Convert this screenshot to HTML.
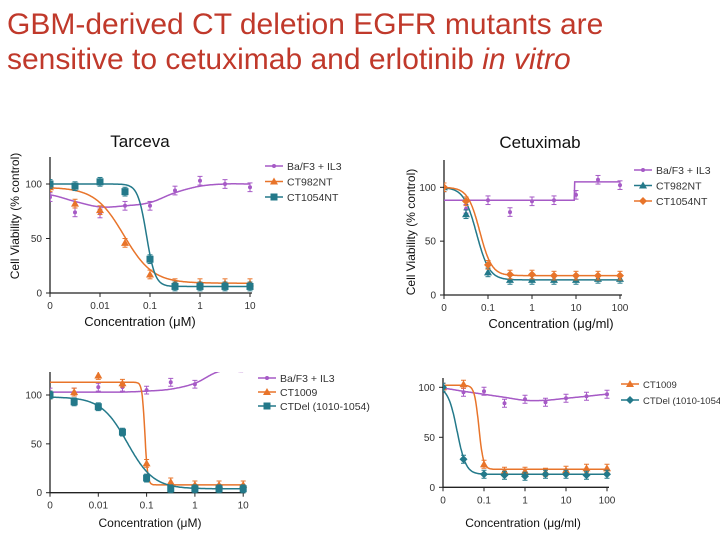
<!DOCTYPE html>
<html><head><meta charset="utf-8"><style>
body{margin:0;background:#fff;width:720px;height:540px;overflow:hidden;font-family:"Liberation Sans",sans-serif}
#title{position:absolute;left:7px;top:7px;font-size:30px;line-height:35px;color:#c0392b;margin:0;font-weight:normal}
svg{position:absolute;left:0;top:0}
</style></head><body>
<h1 id="title">GBM-derived CT deletion EGFR mutants are<br>sensitive to cetuximab and erlotinib <i>in vitro</i></h1>
<svg id="s" width="720" height="540"></svg>
<script>
// shared concentration positions (log10) for each chart
const concA = [-3,-2.5,-2,-1.5,-1,-0.5,0,0.5,1];
const concB = [-2,-1.5,-1,-0.5,0,0.5,1,1.5,2];
// Chart 1 Tarceva
const c1Names = ["Ba/F3 + IL3","CT982NT","CT1054NT"];
const c1Ba = [88,74,73,80,80,94,103,100,97];
const c1BaFit = [90,84,79,80,83,92,98,100,100];
const c1CT982 = [97,82,76,46,17,9,9,9,9];
const c1CT1054 = [100,98,102,93,31,6,6,6,6];
// Chart 2 Cetuximab
const c2Names = ["Ba/F3 + IL3","CT982NT","CT1054NT"];
const c2Ba = [100,80,88,77,87,88,93,107,102];
const c2CT982 = [100,75,21,14,14,14,14,15,15];
const c2CT1054 = [100,87,28,19,19,18,18,18,18];
// Chart 3
const c3Names = ["Ba/F3 + IL3","CT1009","CTDel (1010-1054)"];
const c3Ba = [103,103,108,108,105,113,111];
const c3BaFit = [103,103,103,103,104,106,112,124,124];
const c3CT1009 = [100,103,120,112,30,11,8,8,8];
const c3CTDel = [100,93,88,62,15,4,4,4,4];
// Chart 4
const c4Names = ["CT1009","CTDel (1010-1054)"];
const c4Ba = [100,95,96,84,88,85,89,91,93];
const c4BaFit = [99,96,93,90,87,87,89,91,93];
const c4CT1009 = [100,103,23,16,16,15,17,19,19];
const c4CTDel = [100,28,13,12,11,13,13,12,13];

const P="#a65ac6",O="#e8742a",T="#23798a";
const NS="http://www.w3.org/2000/svg";
const svg=document.getElementById('s');
function el(t,a,p){const e=document.createElementNS(NS,t);for(const k in a)e.setAttribute(k,a[k]);(p||svg).appendChild(e);return e;}
function hill(top,bot,ec,h){return l=>bot+(top-bot)/(1+Math.pow(Math.pow(10,l)/ec,h));}
function spline(vals,logs){return l=>{let i=0;while(i<logs.length-2&&l>logs[i+1])i++;const t=(l-logs[i])/(logs[i+1]-logs[i]);
 const p0=vals[Math.max(i-1,0)],p1=vals[i],p2=vals[i+1],p3=vals[Math.min(i+2,vals.length-1)];
 return 0.5*((2*p1)+(-p0+p2)*t+(2*p0-5*p1+4*p2-p3)*t*t+(-p0+3*p1-3*p2+p3)*t*t*t);};}
function marker(g,shape,x,y,c){
 if(shape==='c')el('circle',{cx:x,cy:y,r:2,fill:c},g);
 else if(shape==='s')el('rect',{x:x-3.5,y:y-3.5,width:7,height:7,fill:c},g);
 else if(shape==='t')el('polygon',{points:`${x},${y-4} ${x-4},${y+3} ${x+4},${y+3}`,fill:c},g);
 else el('polygon',{points:`${x},${y-4} ${x+4},${y} ${x},${y+4} ${x-4},${y}`,fill:c},g);}
function chart(cfg){
 const g=el('g',{});
 
 
 const xs=l=>cfg.x0+(l-cfg.lmin)*cfg.dec, ys=v=>cfg.y0-v*cfg.ys;
 const clipId=cfg.name+'-clip';
 const cp=el('clipPath',{id:clipId},g);el('rect',{x:cfg.x0,y:cfg.top,width:400,height:cfg.y0-cfg.top+2},cp);
 const ax=el('path',{d:`M${cfg.x0},${cfg.top}V${cfg.y0}H${xs(cfg.lmin+cfg.ticks.length-1)+2}`,stroke:'#222','stroke-width':1.3,fill:'none'},g);
 
 
 [0,50,100].forEach(v=>{el('line',{x1:cfg.x0-4,x2:cfg.x0,y1:ys(v),y2:ys(v),stroke:'#222'},g);
  const t=el('text',{x:cfg.x0-8,y:ys(v)+3.5,'font-size':10,'text-anchor':'end',fill:'#333'},g);t.textContent=v;
  
  });
 cfg.ticks.forEach((s,i)=>{const x=xs(cfg.lmin+i);el('line',{x1:x,x2:x,y1:cfg.y0,y2:cfg.y0+4,stroke:'#222'},g);
  const t=el('text',{x:x,y:cfg.y0+16,'font-size':10,'text-anchor':'middle',fill:'#333'},g);t.textContent=s;
  
  });
 cfg.series.forEach(s=>{
  const sg=el('g',{'clip-path':`url(#${clipId})`},g);
  
  
  let d='';for(let l=cfg.conc[0];l<=cfg.conc[cfg.conc.length-1]+1e-9;l+=0.01){d+=(d?'L':'M')+xs(l).toFixed(1)+','+ys(s.fit(l)).toFixed(1);}
  el('path',{d:d,stroke:s.c,'stroke-width':1.5,fill:'none'},sg);
  s.vals.forEach((v,i)=>{const x=xs(cfg.conc[i]),y=ys(v);
   el('line',{x1:x,x2:x,y1:ys(v+4),y2:ys(v-4),stroke:s.c,'stroke-width':1},sg);
   el('line',{x1:x-2.5,x2:x+2.5,y1:ys(v+4),y2:ys(v+4),stroke:s.c},sg);
   el('line',{x1:x-2.5,x2:x+2.5,y1:ys(v-4),y2:ys(v-4),stroke:s.c},sg);
   marker(sg,s.m,x,y,s.c);});
 });
 cfg.legend.forEach((s,i)=>{const y=cfg.ly+i*cfg.lstep;
  const lg=el('g',{},g);
  
  
  el('line',{x1:cfg.lx,x2:cfg.lx+18,y1:y,y2:y,stroke:s.c,'stroke-width':1.5},lg);
  marker(lg,s.m,cfg.lx+9,y,s.c);
  const t=el('text',{x:cfg.lx+22,y:y+4,'font-size':cfg.lf||10.5,fill:'#333'},lg);t.textContent=s.n;});
 if(cfg.title){const t=el('text',{x:cfg.tx,y:cfg.ty,'font-size':17,'text-anchor':'middle',fill:'#111'},g);t.textContent=cfg.title;
  
  }
 const xt=el('text',{x:cfg.xtx,y:cfg.xty,'font-size':cfg.xtf,'text-anchor':'middle',fill:'#111'},g);xt.textContent=cfg.xtitle;
 
 
 if(cfg.ytx){const yt=el('text',{x:0,y:0,'font-size':12,'text-anchor':'middle',fill:'#111',transform:`translate(${cfg.ytx},${cfg.yty}) rotate(-90)`},g);yt.textContent='Cell Viability (% control)';
  
  }
}
const tA=['0','0.01','0.1','1','10'], tB=['0','0.1','1','10','100'];
chart({name:'tarceva-chart',x0:50,y0:293,ys:1.09,top:157,lmin:-3,dec:50,conc:concA,ticks:tA,
 series:[{key:'ba',vals:c1Ba,fit:spline(c1BaFit,concA),c:P,m:'c'},{key:'ct982',vals:c1CT982,fit:hill(97,9,0.03,1.5),c:O,m:'t'},{key:'ct1054',vals:c1CT1054,fit:hill(100,6,0.085,5),c:T,m:'s'}],
 legend:[{n:c1Names[0],c:P,m:'c'},{n:c1Names[1],c:O,m:'t'},{n:c1Names[2],c:T,m:'s'}],lx:265,ly:166,lstep:15.5,
 title:'Tarceva',tx:140,ty:147,xtitle:'Concentration (μM)',xtx:140,xty:326,xtf:13,ytx:19,yty:216});
chart({name:'cetuximab-chart',x0:444,y0:295,ys:1.077,top:160,lmin:-2,dec:44,conc:concB,ticks:tB,
 series:[{key:'ba',vals:c2Ba,fit:l=>l<0.97?88:105,c:P,m:'c'},{key:'ct982',vals:c2CT982,fit:hill(100,14,0.055,3),c:T,m:'t'},{key:'ct1054',vals:c2CT1054,fit:hill(100,18,0.065,3.2),c:O,m:'d'}],
 legend:[{n:c2Names[0],c:P,m:'c'},{n:c2Names[1],c:T,m:'t'},{n:c2Names[2],c:O,m:'d'}],lx:634,ly:170,lstep:15.5,
 title:'Cetuximab',tx:540,ty:148,xtitle:'Concentration (μg/ml)',xtx:551,xty:328,xtf:13,ytx:415,yty:232});
chart({name:'bottom-left-chart',x0:50,y0:492.7,ys:0.977,top:372,lmin:-3,dec:48.3,conc:concA,ticks:tA,
 series:[{key:'ba',vals:c3Ba,fit:spline(c3BaFit,concA),c:P,m:'c'},{key:'ct1009',vals:c3CT1009,fit:hill(113,8,0.092,15),c:O,m:'t'},{key:'ctdel',vals:c3CTDel,fit:hill(98,4,0.04,1.6),c:T,m:'s'}],
 legend:[{n:c3Names[0],c:P,m:'c'},{n:c3Names[1],c:O,m:'t'},{n:c3Names[2],c:T,m:'s'}],lx:258,ly:378,lstep:14,
 xtitle:'Concentration (μM)',xtx:150,xty:527,xtf:12});
chart({name:'bottom-right-chart',x0:443,y0:487.3,ys:1.0,top:378,lmin:-2,dec:41,conc:concB,ticks:tB,
 series:[{key:'ba',vals:c4Ba,fit:spline(c4BaFit,concB),c:P,m:'c'},{key:'ct1009',vals:c4CT1009,fit:hill(102,18,0.075,8),c:O,m:'t'},{key:'ctdel',vals:c4CTDel,fit:hill(100,13,0.022,4),c:T,m:'d'}],
 legend:[{n:c4Names[0],c:O,m:'t'},{n:c4Names[1],c:T,m:'d'}],lx:621,ly:384,lstep:16,lf:9.5,
 xtitle:'Concentration (μg/ml)',xtx:523,xty:527,xtf:12});
</script>
</body></html>
